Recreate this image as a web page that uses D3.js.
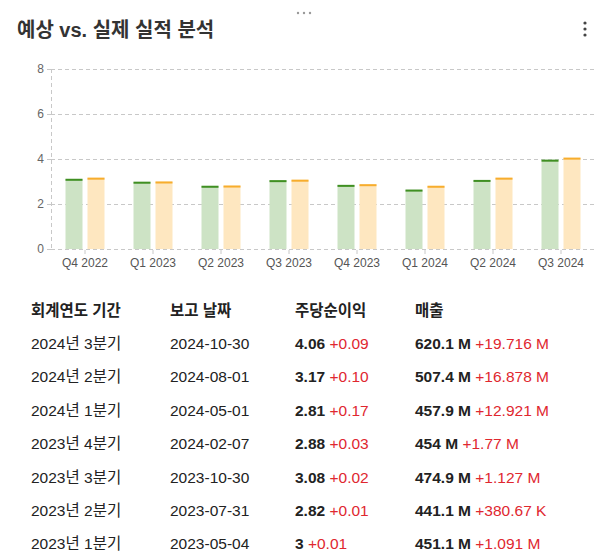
<!DOCTYPE html>
<html>
<head>
<meta charset="utf-8">
<script src="https://cdn.jsdelivr.net/npm/d3@7"></script>
<style>
  html, body { margin: 0; padding: 0; background: #fff; }
  svg { display: block; font-family: "Liberation Sans", Arial, "Noto Sans CJK KR", sans-serif; }
</style>
</head>
<body>
<svg id="chart" width="607" height="557"></svg>
<script>
const quarters = ['Q4 2022','Q1 2023','Q2 2023','Q3 2023','Q4 2023','Q1 2024','Q2 2024','Q3 2024'];
const estimateEPS = [3.12, 2.99, 2.81, 3.06, 2.85, 2.64, 3.07, 3.97];
const actualEPS   = [3.17, 3.00, 2.82, 3.08, 2.88, 2.81, 3.17, 4.06];
const yTicks = [0, 2, 4, 6, 8];

const tableHeaders = ['회계연도 기간', '보고 날짜', '주당순이익', '매출'];
const periods = ['2024년 3분기','2024년 2분기','2024년 1분기','2023년 4분기','2023년 3분기','2023년 2분기','2023년 1분기'];
const reportDates = ['2024-10-30','2024-08-01','2024-05-01','2024-02-07','2023-10-30','2023-07-31','2023-05-04'];
const epsValues = ['4.06','3.17','2.81','2.88','3.08','2.82','3'];
const epsDiffs = ['+0.09','+0.10','+0.17','+0.03','+0.02','+0.01','+0.01'];
const revenueValues = ['620.1 M','507.4 M','457.9 M','454 M','474.9 M','441.1 M','451.1 M'];
const revenueDiffs = ['+19.716 M','+16.878 M','+12.921 M','+1.77 M','+1.127 M','+380.67 K','+1.091 M'];

const svg = d3.select('#chart');

// header decorations
svg.append('text').attr('x', 17).attr('y', 37)
  .attr('font-size', 20).attr('font-weight', 'bold').attr('fill', '#333')
  .text('예상 vs. 실제 실적 분석');
[298, 304, 310].forEach(cx => svg.append('circle').attr('cx', cx).attr('cy', 13).attr('r', 1.2).attr('fill', '#999'));
[23, 29, 35].forEach(cy => svg.append('circle').attr('cx', 585).attr('cy', cy).attr('r', 1.6).attr('fill', '#444'));

// scales
const x = d3.scaleBand().domain(quarters).range([51, 595]).paddingInner(29/68).paddingOuter(29/136);
const xs = d3.scaleBand().domain(['est', 'act']).range([0, x.bandwidth()]).paddingInner(5/22);
const y = d3.scaleLinear().domain([0, 8]).range([249, 69]);

// grid
const grid = svg.append('g');
grid.selectAll('line.h').data(yTicks).join('line')
  .attr('x1', 51).attr('x2', 597)
  .attr('y1', d => y(d) + 0.5).attr('y2', d => y(d) + 0.5)
  .attr('stroke', '#c8c8c8').attr('stroke-dasharray', '4,3');
grid.append('line').attr('x1', 51.5).attr('x2', 51.5).attr('y1', y(8)).attr('y2', y(0))
  .attr('stroke', '#c8c8c8').attr('stroke-dasharray', '4,3');

// y axis labels
const yAxis = d3.axisLeft(y).tickValues(yTicks).tickSize(4).tickPadding(3);
const gy = svg.append('g').attr('transform', 'translate(51,0)').call(yAxis)
  .attr('font-family', null).attr('font-size', null);
gy.select('.domain').remove();
gy.selectAll('.tick line').attr('stroke', '#c8c8c8');
gy.selectAll('.tick text').attr('fill', '#666').attr('font-size', 12);

// x axis
const xAxis = d3.axisBottom(x).tickSize(4).tickPadding(4);
const gx = svg.append('g').attr('transform', 'translate(0,250)').call(xAxis)
  .attr('font-family', null).attr('font-size', null);
gx.select('.domain').remove();
gx.selectAll('.tick line').attr('stroke', '#c8c8c8');
gx.selectAll('.tick text').attr('fill', '#555').attr('font-size', 12);

// bars
const series = [
  { key: 'est', values: estimateEPS, fill: '#cde3c5', line: '#3f8f22' },
  { key: 'act', values: actualEPS, fill: '#fee7c0', line: '#f7ad2d' }
];
series.forEach(s => {
  const g = svg.append('g');
  g.selectAll('rect').data(quarters).join('rect')
    .attr('x', q => x(q) + xs(s.key))
    .attr('width', xs.bandwidth())
    .attr('y', (q, i) => y(s.values[i]))
    .attr('height', (q, i) => y(0) - y(s.values[i]))
    .attr('fill', s.fill);
  g.selectAll('line').data(quarters).join('line')
    .attr('x1', q => x(q) + xs(s.key))
    .attr('x2', q => x(q) + xs(s.key) + xs.bandwidth())
    .attr('y1', (q, i) => y(s.values[i]) + 1)
    .attr('y2', (q, i) => y(s.values[i]) + 1)
    .attr('stroke', s.line).attr('stroke-width', 2);
});

// table
const colX = [31, 170, 295, 415];
const headerY = 316;
const rowY0 = 349, rowStep = 33.4;
const fs = 15.5;
tableHeaders.forEach((h, i) => svg.append('text').attr('x', colX[i]).attr('y', headerY)
  .attr('font-size', fs).attr('font-weight', 'bold').attr('fill', '#222').text(h));

periods.forEach((p, i) => {
  const yy = rowY0 + i * rowStep;
  svg.append('text').attr('x', colX[0]).attr('y', yy).attr('font-size', fs).attr('fill', '#222').text(p);
  svg.append('text').attr('x', colX[1]).attr('y', yy).attr('font-size', fs).attr('fill', '#222').text(reportDates[i]);
  const t1 = svg.append('text').attr('x', colX[2]).attr('y', yy).attr('font-size', fs);
  t1.append('tspan').attr('font-weight', 'bold').attr('fill', '#222').text(epsValues[i]);
  t1.append('tspan').attr('fill', '#e0272f').text(' ' + epsDiffs[i]);
  const t2 = svg.append('text').attr('x', colX[3]).attr('y', yy).attr('font-size', fs);
  t2.append('tspan').attr('font-weight', 'bold').attr('fill', '#222').text(revenueValues[i]);
  t2.append('tspan').attr('fill', '#e0272f').text(' ' + revenueDiffs[i]);
});
</script>
</body>
</html>
